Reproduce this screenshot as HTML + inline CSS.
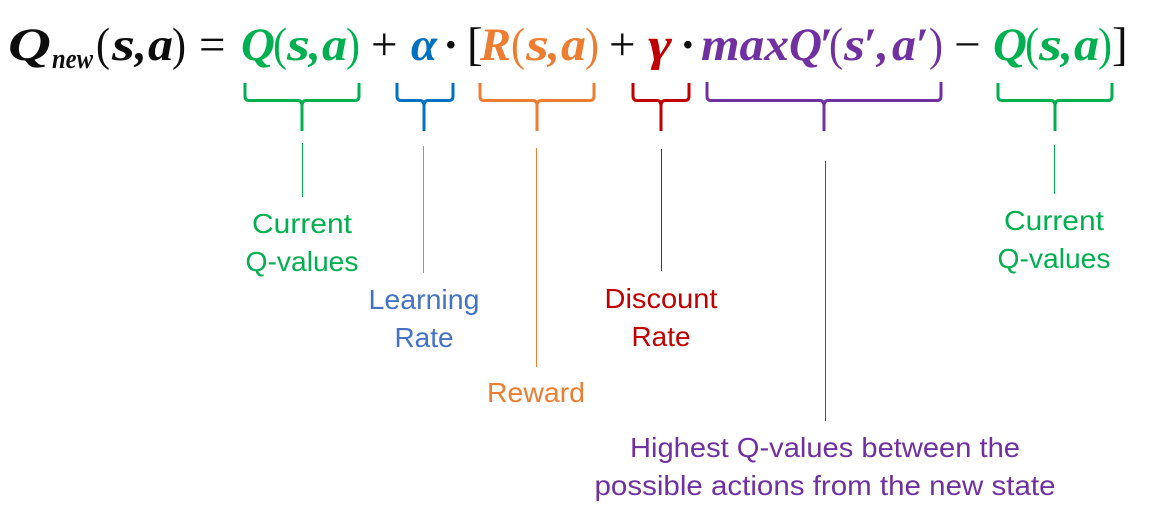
<!DOCTYPE html>
<html><head><meta charset="utf-8"><style>
html,body{margin:0;padding:0;background:#fff;width:1155px;height:521px;overflow:hidden}
svg{display:block}
.m{font-family:"Liberation Serif",serif;font-size:47px;font-weight:bold;font-style:italic}
.p{font-family:"Liberation Serif",serif;font-size:47px;font-weight:normal}
.l{font-family:"Liberation Sans",sans-serif;font-size:27.500px;text-anchor:middle}
.b{fill:none;stroke-width:3}
</style></head><body>
<svg width="1155" height="521" viewBox="0 0 1155 521" xmlns="http://www.w3.org/2000/svg">
<rect width="1155" height="521" fill="#fff"/>
<g fill="#0d0d0d">
<text class="m" x="8" y="60" textLength="43" lengthAdjust="spacingAndGlyphs">Q</text>
<text class="m" x="52" y="68" style="font-size:28px" textLength="41" lengthAdjust="spacingAndGlyphs">new</text>
<text class="p" x="96" y="60" textLength="14" lengthAdjust="spacingAndGlyphs">(</text>
<text class="m" x="112" y="60" textLength="23" lengthAdjust="spacingAndGlyphs">s</text><text class="m" x="135" y="60">,</text><text class="m" x="148" y="60" textLength="25" lengthAdjust="spacingAndGlyphs">a</text>
<text class="p" x="172" y="60" textLength="14" lengthAdjust="spacingAndGlyphs">)</text>
<text class="p" x="199" y="60">=</text>
<text class="p" x="371" y="60">+</text>
<text class="p" x="443" y="60" style="font-weight:bold">·</text>
<text class="p" x="467" y="60">[</text>
<text class="p" x="609" y="60">+</text>
<text class="p" x="680" y="60" style="font-weight:bold">·</text>
<text class="p" x="954" y="60">−</text>
<text class="p" x="1112" y="60">]</text>
</g>
<g fill="#00b050">
<text class="m" x="241" y="60" textLength="34" lengthAdjust="spacingAndGlyphs">Q</text>
<text class="p" x="273" y="60" textLength="14" lengthAdjust="spacingAndGlyphs">(</text><text class="m" x="287" y="60" textLength="23" lengthAdjust="spacingAndGlyphs">s</text><text class="m" x="309" y="60">,</text><text class="m" x="322" y="60" textLength="25" lengthAdjust="spacingAndGlyphs">a</text><text class="p" x="346" y="60" textLength="14" lengthAdjust="spacingAndGlyphs">)</text>
<text class="m" x="993" y="60" textLength="34" lengthAdjust="spacingAndGlyphs">Q</text>
<text class="p" x="1025" y="60" textLength="14" lengthAdjust="spacingAndGlyphs">(</text><text class="m" x="1039" y="60" textLength="23" lengthAdjust="spacingAndGlyphs">s</text><text class="m" x="1061" y="60">,</text><text class="m" x="1074" y="60" textLength="25" lengthAdjust="spacingAndGlyphs">a</text><text class="p" x="1098" y="60" textLength="14" lengthAdjust="spacingAndGlyphs">)</text>
</g>
<text class="m" x="411" y="60" fill="#0070c0" textLength="26" lengthAdjust="spacingAndGlyphs">α</text>
<g fill="#ed7d31">
<text class="m" x="480" y="60" textLength="31" lengthAdjust="spacingAndGlyphs">R</text>
<text class="p" x="511" y="60" textLength="14" lengthAdjust="spacingAndGlyphs">(</text><text class="m" x="526" y="60" textLength="23" lengthAdjust="spacingAndGlyphs">s</text><text class="m" x="548" y="60">,</text><text class="m" x="561" y="60" textLength="25" lengthAdjust="spacingAndGlyphs">a</text><text class="p" x="585" y="60" textLength="14" lengthAdjust="spacingAndGlyphs">)</text>
</g>
<text class="m" x="648" y="60" fill="#c00000" textLength="24" lengthAdjust="spacingAndGlyphs">γ</text>
<g fill="#7030a0">
<text class="m" x="701" y="60" textLength="88" lengthAdjust="spacingAndGlyphs">max</text>
<text class="m" x="789" y="60" textLength="33" lengthAdjust="spacingAndGlyphs">Q</text>
<text class="p" x="820" y="60" style="font-weight:bold">′</text>
<text class="p" x="829" y="60" textLength="14" lengthAdjust="spacingAndGlyphs">(</text><text class="m" x="844" y="60" textLength="21" lengthAdjust="spacingAndGlyphs">s</text><text class="p" x="864" y="60" style="font-weight:bold">′</text>
<text class="m" x="877" y="60">,</text><text class="m" x="892" y="60" textLength="24" lengthAdjust="spacingAndGlyphs">a</text><text class="p" x="916" y="60" style="font-weight:bold">′</text><text class="p" x="929" y="60" textLength="14" lengthAdjust="spacingAndGlyphs">)</text>
</g>
<path class="b" stroke="#00b050" d="M245 83V96Q245 100.500 249 100.500H298Q302 100.500 302 106V131M302 106Q302 100.500 306 100.500H355Q359 100.500 359 96V83"/>
<path class="b" stroke="#0070c0" d="M397 83V96Q397 100.500 401 100.500H420Q424 100.500 424 106V131M424 106Q424 100.500 428 100.500H449Q453 100.500 453 96V83"/>
<path class="b" stroke="#ed7d31" d="M480 83V96Q480 100.500 484 100.500H533Q537 100.500 537 106V131M537 106Q537 100.500 541 100.500H590Q594 100.500 594 96V83"/>
<path class="b" stroke="#c00000" d="M633 83V96Q633 100.500 637 100.500H657Q661 100.500 661 106V131M661 106Q661 100.500 665 100.500H685Q689 100.500 689 96V83"/>
<path class="b" stroke="#7030a0" d="M707 82V96Q707 100.500 711 100.500H820Q824 100.500 824 106V131M824 106Q824 100.500 828 100.500H937Q941 100.500 941 96V82"/>
<path class="b" stroke="#00b050" d="M998 83V96Q998 100.500 1002 100.500H1051Q1055 100.500 1055 106V131M1055 106Q1055 100.500 1059 100.500H1108Q1112 100.500 1112 96V83"/>
<g stroke-width="1">
<line x1="302.500" y1="143" x2="302.500" y2="197" stroke="#00b050"/>
<line x1="423.500" y1="146" x2="423.500" y2="273" stroke="#ed7d31"/>
<line x1="536.500" y1="148" x2="536.500" y2="367" stroke="#ed7d31"/>
<line x1="661.500" y1="149" x2="661.500" y2="271" stroke="#c00000"/>
<line x1="825.500" y1="161" x2="825.500" y2="421" stroke="#7030a0"/>
<line x1="1054.500" y1="145" x2="1054.500" y2="194" stroke="#00b050"/>
</g>
<text class="l" x="302" y="233" fill="#00b050" textLength="100" lengthAdjust="spacingAndGlyphs">Current</text>
<text class="l" x="302" y="271" fill="#00b050" textLength="113" lengthAdjust="spacingAndGlyphs">Q-values</text>
<text class="l" x="424" y="309" fill="#4472c4" textLength="111" lengthAdjust="spacingAndGlyphs">Learning</text>
<text class="l" x="424" y="347" fill="#4472c4" textLength="59" lengthAdjust="spacingAndGlyphs">Rate</text>
<text class="l" x="536" y="402" fill="#ed7d31" textLength="98" lengthAdjust="spacingAndGlyphs">Reward</text>
<text class="l" x="661" y="308" fill="#c00000" textLength="113" lengthAdjust="spacingAndGlyphs">Discount</text>
<text class="l" x="661" y="346" fill="#c00000" textLength="59" lengthAdjust="spacingAndGlyphs">Rate</text>
<text class="l" x="825" y="457" fill="#7030a0" textLength="390" lengthAdjust="spacingAndGlyphs">Highest Q-values between the</text>
<text class="l" x="825" y="495" fill="#7030a0" textLength="461" lengthAdjust="spacingAndGlyphs">possible actions from the new state</text>
<text class="l" x="1054" y="230" fill="#00b050" textLength="100" lengthAdjust="spacingAndGlyphs">Current</text>
<text class="l" x="1054" y="268" fill="#00b050" textLength="113" lengthAdjust="spacingAndGlyphs">Q-values</text>
</svg>
</body></html>
